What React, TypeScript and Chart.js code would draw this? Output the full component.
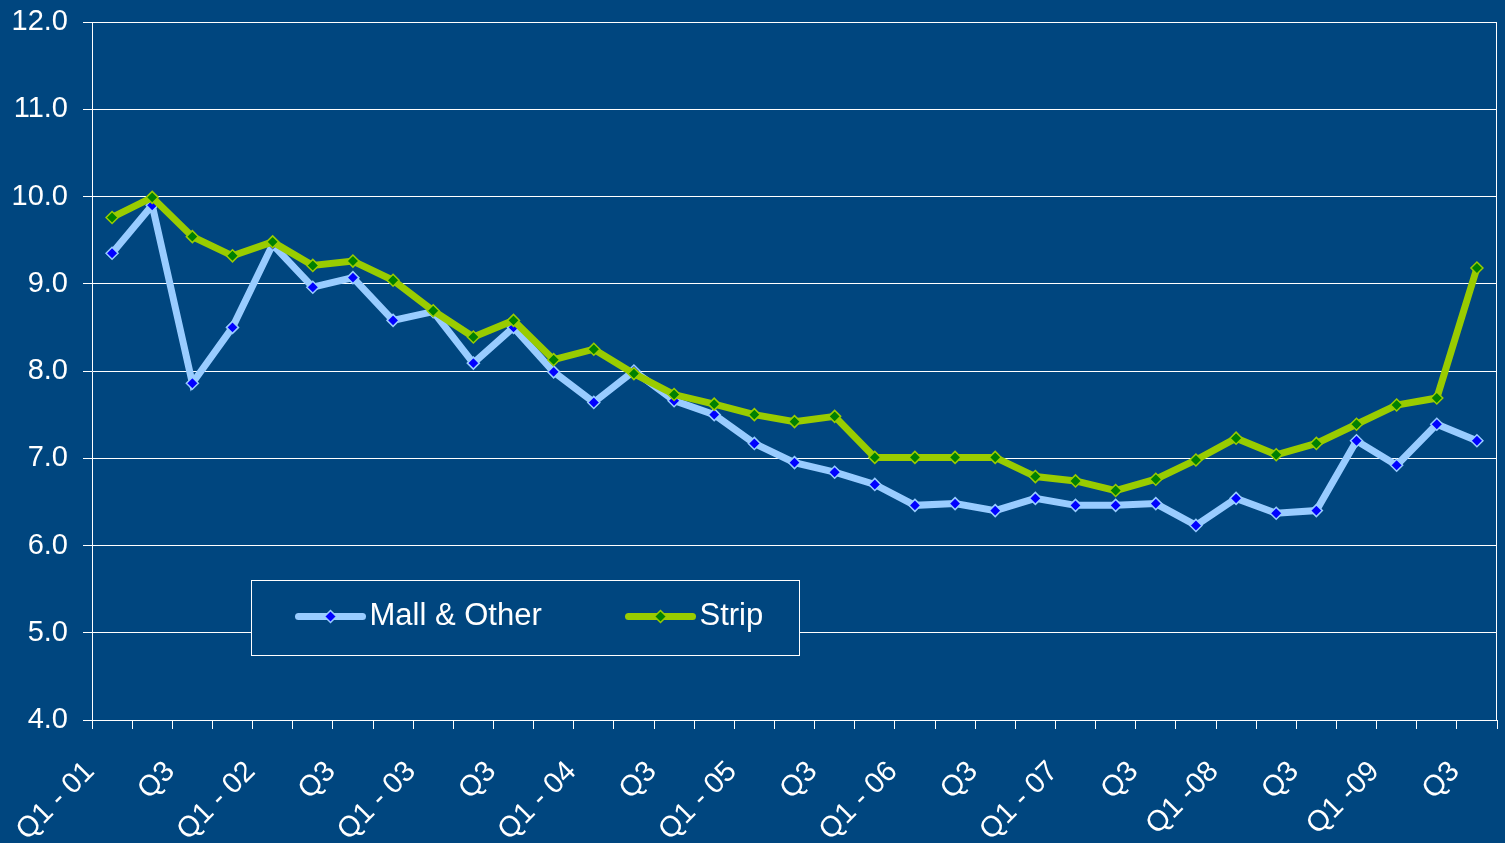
import React, { useEffect, useRef } from "react";
import { Chart, registerables } from "chart.js";

Chart.register(...registerables);

const quarterLabels = [
  "Q1 - 01", "Q2", "Q3", "Q4",
  "Q1 - 02", "Q2", "Q3", "Q4",
  "Q1 - 03", "Q2", "Q3", "Q4",
  "Q1 - 04", "Q2", "Q3", "Q4",
  "Q1 - 05", "Q2", "Q3", "Q4",
  "Q1 - 06", "Q2", "Q3", "Q4",
  "Q1 - 07", "Q2", "Q3", "Q4",
  "Q1 -08", "Q2", "Q3", "Q4",
  "Q1 -09", "Q2", "Q3",
];

const mallOther = [
  9.35, 9.9, 7.86, 8.5, 9.45, 8.96, 9.07, 8.58, 8.68, 8.09, 8.5, 7.99,
  7.64, 8.0, 7.66, 7.5, 7.17, 6.95, 6.84, 6.7, 6.46, 6.48, 6.4, 6.54,
  6.46, 6.46, 6.48, 6.23, 6.54, 6.37, 6.4, 7.2, 6.92, 7.39, 7.2,
];

const strip = [
  9.76, 9.99, 9.54, 9.32, 9.48, 9.21, 9.26, 9.04, 8.69, 8.39, 8.58, 8.13,
  8.25, 7.97, 7.73, 7.62, 7.5, 7.42, 7.48, 7.01, 7.01, 7.01, 7.01, 6.79,
  6.74, 6.63, 6.76, 6.98, 7.23, 7.04, 7.17, 7.39, 7.61, 7.69, 9.18,
];

const seriesNames = ["Mall & Other", "Strip"];

const BG = "#00467F";
const FONT = "'Liberation Sans', Arial, sans-serif";

const MALL_LINE = "#99CCFF";
const MALL_FILL = "#0000FF";
const STRIP_LINE = "#99CC00";
const STRIP_FILL = "#008000";

const bgPlugin = {
  id: "bgFill",
  beforeDraw(chart: any) {
    const { ctx, width, height } = chart;
    ctx.save();
    ctx.fillStyle = BG;
    ctx.fillRect(0, 0, width, height);
    ctx.restore();
  },
  afterDraw(chart: any) {
    const { ctx, chartArea } = chart;
    const xScale = chart.scales.x;
    ctx.save();
    ctx.strokeStyle = "#FFFFFF";
    ctx.lineWidth = 1;
    const x = Math.round(chartArea.right) - 0.5;
    ctx.beginPath();
    ctx.moveTo(x, chartArea.top);
    ctx.lineTo(x, chartArea.bottom);
    ctx.stroke();

    // rotated category labels, every second quarter
    ctx.fillStyle = "#FFFFFF";
    ctx.font = `29px ${FONT}`;
    ctx.textAlign = "right";
    ctx.textBaseline = "middle";
    quarterLabels.forEach((lab, i) => {
      if (i % 2 !== 0) return;
      const px = xScale.getPixelForValue(i);
      ctx.save();
      ctx.translate(px - 22, chartArea.bottom + 47);
      ctx.rotate(-Math.PI / 4);
      ctx.fillText(lab, 0, 0);
      ctx.restore();
    });

    // legend box inside plot area
    const bx = Math.round(chartArea.left + 159) + 0.5;
    const by = Math.round(chartArea.top + 558) + 0.5;
    const bw = 548;
    const bh = 75;
    ctx.fillStyle = BG;
    ctx.fillRect(bx, by, bw, bh);
    ctx.strokeStyle = "#FFFFFF";
    ctx.lineWidth = 1;
    ctx.strokeRect(bx, by, bw, bh);

    const cy = by + 36;
    const items = [
      { name: seriesNames[0], line: MALL_LINE, fill: MALL_FILL, x0: bx + 44 },
      { name: seriesNames[1], line: STRIP_LINE, fill: STRIP_FILL, x0: bx + 374 },
    ];
    items.forEach((it) => {
      ctx.strokeStyle = it.line;
      ctx.lineWidth = 7;
      ctx.lineCap = "round";
      ctx.beginPath();
      ctx.moveTo(it.x0 + 3, cy);
      ctx.lineTo(it.x0 + 67, cy);
      ctx.stroke();
      const mx = it.x0 + 35;
      const r = 6;
      ctx.beginPath();
      ctx.moveTo(mx, cy - r);
      ctx.lineTo(mx + r, cy);
      ctx.lineTo(mx, cy + r);
      ctx.lineTo(mx - r, cy);
      ctx.closePath();
      ctx.fillStyle = it.fill;
      ctx.fill();
      ctx.lineWidth = 1.5;
      ctx.strokeStyle = it.line;
      ctx.stroke();
      ctx.fillStyle = "#FFFFFF";
      ctx.font = `31px ${FONT}`;
      ctx.textBaseline = "middle";
      ctx.textAlign = "left";
      ctx.fillText(it.name, it.x0 + 74, cy);
    });
    ctx.restore();
  },
};

export default function App() {
  const ref = useRef<HTMLCanvasElement | null>(null);

  useEffect(() => {
    document.body.style.margin = "0";
    document.body.style.background = BG;
    const canvas = ref.current;
    if (!canvas) return;
    const chart = new Chart(canvas, {
      type: "line",
      data: {
        labels: quarterLabels,
        datasets: [
          {
            label: seriesNames[0],
            data: mallOther,
            borderColor: MALL_LINE,
            backgroundColor: MALL_FILL,
            borderWidth: 7,
            pointStyle: "rectRot",
            pointRadius: 6,
            pointBorderWidth: 1.5,
            pointBackgroundColor: MALL_FILL,
            pointBorderColor: MALL_LINE,
            tension: 0,
            order: 2,
          },
          {
            label: seriesNames[1],
            data: strip,
            borderColor: STRIP_LINE,
            backgroundColor: STRIP_FILL,
            borderWidth: 7,
            pointStyle: "rectRot",
            pointRadius: 6,
            pointBorderWidth: 1.5,
            pointBackgroundColor: STRIP_FILL,
            pointBorderColor: STRIP_LINE,
            tension: 0,
            order: 1,
          },
        ],
      },
      plugins: [bgPlugin],
      options: {
        responsive: false,
        animation: false,
        devicePixelRatio: 1,
        layout: { padding: { top: 22, right: 8, left: 0, bottom: 0 } },
        plugins: {
          legend: { display: false },
          tooltip: { enabled: false },
        },
        scales: {
          x: {
            type: "category",
            offset: true,
            grid: {
              offset: true,
              drawOnChartArea: false,
              color: "#FFFFFF",
              tickLength: 9,
              tickColor: "#FFFFFF",
            },
            border: { color: "#FFFFFF", width: 1 },
            ticks: {
              display: false,
              autoSkip: false,
            },
            afterFit: (scale: any) => {
              scale.height = 123;
              scale.paddingLeft = 0;
              scale.paddingRight = 0;
            },
          },
          y: {
            min: 4,
            max: 12,
            ticks: {
              stepSize: 1,
              color: "#FFFFFF",
              font: { family: FONT, size: 29 },
              padding: 15,
              callback: (v: any) => Number(v).toFixed(1),
            },
            grid: {
              color: "#FFFFFF",
              lineWidth: 1,
              tickLength: 9,
              tickColor: "#FFFFFF",
            },
            border: { color: "#FFFFFF", width: 1 },
            afterFit: (scale: any) => {
              scale.width = 92;
              scale.paddingTop = 0;
              scale.paddingBottom = 0;
            },
          },
        },
      },
    } as any);
    return () => chart.destroy();
  }, []);

  return (
    <div style={{ width: 1505, height: 843 }}>
      <canvas ref={ref} width={1505} height={843} style={{ display: "block", width: 1505, height: 843 }} />
    </div>
  );
}
